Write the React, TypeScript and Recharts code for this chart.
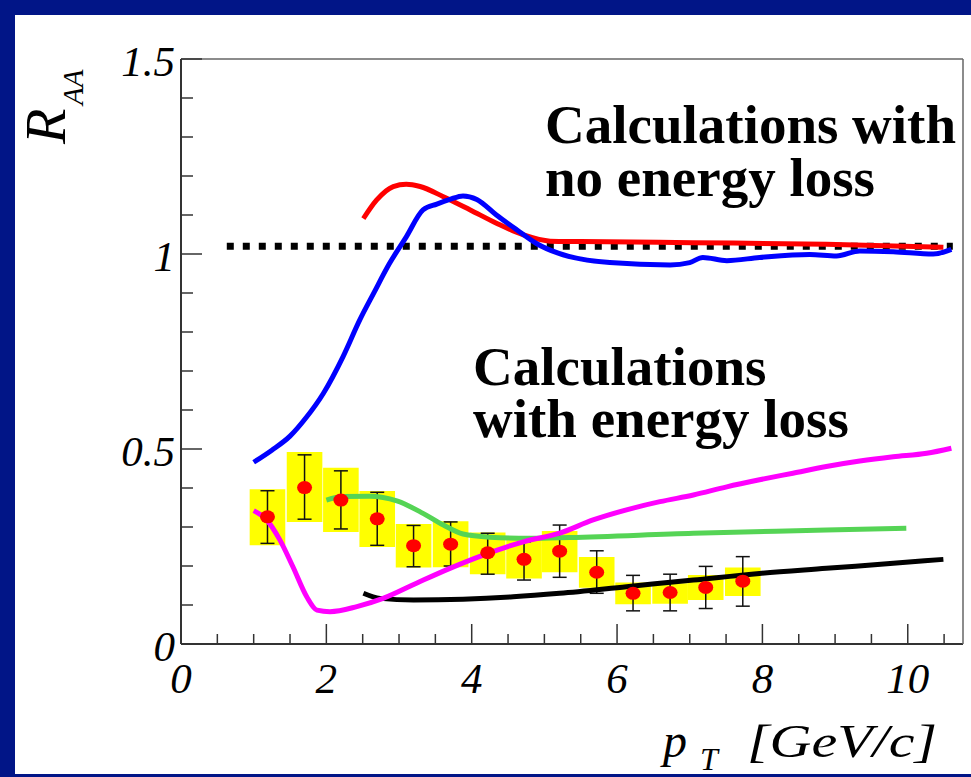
import React from 'react';
import {
  ComposedChart,
  Line,
  Scatter,
  XAxis,
  YAxis,
  ReferenceArea,
  ErrorBar,
  Customized,
} from 'recharts';

// ---------- axis ticks ----------
const xTicks = [0, 0.5, 1, 1.5, 2, 2.5, 3, 3.5, 4, 4.5, 5, 5.5, 6, 6.5, 7, 7.5, 8, 8.5, 9, 9.5, 10, 10.5];
const xTickLabels = ['0', '2', '4', '6', '8', '10'];
const yTicks = [0, 0.1, 0.2, 0.3, 0.4, 0.5, 0.6, 0.7, 0.8, 0.9, 1, 1.1, 1.2, 1.3, 1.4, 1.5];
const yTickLabels = ['0', '0.5', '1', '1.5'];

// ---------- theory curves ----------
const blueX = [1.0, 1.25, 1.5, 1.72, 1.96, 2.23, 2.46, 2.65, 2.87, 3.1, 3.33, 3.52, 3.7, 3.88, 4.07, 4.34, 4.62, 4.89, 5.19, 5.9, 6.73, 7.0, 7.18, 7.51, 7.96, 8.65, 9.02, 9.34, 9.8, 10.35, 10.6];
const blueY = [0.466, 0.497, 0.533, 0.58, 0.643, 0.737, 0.831, 0.899, 0.976, 1.044, 1.113, 1.128, 1.14, 1.149, 1.14, 1.1, 1.062, 1.027, 1.002, 0.978, 0.972, 0.978, 0.991, 0.983, 0.991, 0.999, 0.995, 1.008, 1.006, 1.0, 1.012];

const redX = [2.51, 2.69, 2.92, 3.1, 3.29, 3.61, 3.98, 4.34, 4.71, 5.08, 5.5, 7.04, 8.88, 10.49];
const redY = [1.091, 1.138, 1.173, 1.179, 1.173, 1.147, 1.113, 1.079, 1.049, 1.033, 1.032, 1.029, 1.025, 1.017];

const greenX = [2.0, 2.23, 2.6, 2.97, 3.33, 3.61, 3.88, 4.25, 4.8, 5.35, 7.05, 8.88, 9.98];
const greenY = [0.369, 0.378, 0.379, 0.367, 0.335, 0.305, 0.282, 0.274, 0.271, 0.273, 0.284, 0.292, 0.297];

const magentaX = [1.0, 1.18, 1.36, 1.54, 1.73, 1.87, 2.05, 2.42, 2.78, 3.24, 3.7, 4.16, 4.71, 5.21, 5.67, 6.13, 6.59, 7.05, 7.51, 7.96, 8.42, 8.88, 9.34, 9.8, 10.26, 10.6];
const magentaY = [0.342, 0.318, 0.267, 0.198, 0.121, 0.087, 0.083, 0.096, 0.117, 0.156, 0.194, 0.228, 0.262, 0.284, 0.318, 0.344, 0.365, 0.382, 0.403, 0.421, 0.438, 0.455, 0.469, 0.48, 0.489, 0.502];

const blackX = [2.51, 2.74, 3.2, 3.88, 4.57, 5.21, 6.13, 7.05, 7.96, 8.88, 9.8, 10.49];
const blackY = [0.13, 0.117, 0.113, 0.115, 0.121, 0.13, 0.147, 0.164, 0.181, 0.194, 0.207, 0.217];

const dottedX = [0.63, 10.62];
const dottedY = [1.02, 1.02];

// ---------- measured points ----------
const dataX = [1.19, 1.7, 2.2, 2.7, 3.2, 3.71, 4.22, 4.72, 5.21, 5.72, 6.22, 6.73, 7.22, 7.73];
const dataY = [0.326, 0.401, 0.369, 0.321, 0.252, 0.256, 0.234, 0.217, 0.238, 0.184, 0.13, 0.132, 0.145, 0.161];
const statLo = [0.258, 0.32, 0.295, 0.253, 0.198, 0.2, 0.179, 0.164, 0.171, 0.13, 0.085, 0.085, 0.091, 0.097];
const statHi = [0.393, 0.485, 0.444, 0.389, 0.304, 0.313, 0.284, 0.262, 0.305, 0.239, 0.176, 0.179, 0.199, 0.224];
const sysLo = [0.253, 0.313, 0.287, 0.249, 0.196, 0.197, 0.179, 0.168, 0.184, 0.144, 0.102, 0.103, 0.113, 0.123];
const sysHi = [0.397, 0.492, 0.452, 0.392, 0.308, 0.315, 0.286, 0.267, 0.29, 0.223, 0.158, 0.156, 0.177, 0.196];

const BOX_HALF = 0.245;

const toXY = (xs: number[], ys: number[]) => xs.map((x, i) => ({ x, y: ys[i] }));

const blueData = toXY(blueX, blueY);
const redData = toXY(redX, redY);
const greenData = toXY(greenX, greenY);
const magentaData = toXY(magentaX, magentaY);
const blackData = toXY(blackX, blackY);
const dottedData = toXY(dottedX, dottedY);
const pointData = dataX.map((x, i) => ({
  x,
  y: dataY[i],
  err: [dataY[i] - statLo[i], statHi[i] - dataY[i]],
}));

const SERIF = '"Liberation Serif", "Times New Roman", serif';
const AXIS_COLOR = '#333';

const fmt = (v: number) => String(Math.round(v * 10) / 10);

const XTick = (props: any) => {
  const { x, y, payload } = props;
  const v = payload.value as number;
  const major = Math.abs(v / 2 - Math.round(v / 2)) < 1e-6;
  const label = fmt(v);
  return (
    <g>
      <line x1={x} x2={x} y1={y} y2={y - (major ? 20 : 10)} stroke={AXIS_COLOR} strokeWidth={1.5} />
      {major && xTickLabels.includes(label) ? (
        <text x={x} y={y + 49} textAnchor="middle" fontFamily={SERIF} fontStyle="italic" fontSize={43} fill="#000">
          {label}
        </text>
      ) : null}
    </g>
  );
};

const YTick = (props: any) => {
  const { x, y, payload } = props;
  const v = payload.value as number;
  const major = Math.abs(v * 2 - Math.round(v * 2)) < 1e-6;
  const label = fmt(v);
  return (
    <g>
      <line x1={x} x2={x + (major ? 21 : 12)} y1={y} y2={y} stroke={AXIS_COLOR} strokeWidth={1.5} />
      {major && yTickLabels.includes(label) ? (
        <text x={x - 6} y={y + 17} textAnchor="end" fontFamily={SERIF} fontStyle="italic" fontSize={43} fill="#000">
          {label}
        </text>
      ) : null}
    </g>
  );
};

const RedDot = (props: any) => {
  const { cx, cy } = props;
  if (cx == null || cy == null) return null;
  return <ellipse cx={cx} cy={cy} rx={7.5} ry={6.5} fill="#ff0000" />;
};

const Texts = () => (
  <g>
    <text fontFamily={SERIF} fontWeight="bold" fontSize={55} fill="#000">
      <tspan x={545} y={143}>Calculations with</tspan>
      <tspan x={545} y={196}>no energy loss</tspan>
    </text>
    <text fontFamily={SERIF} fontWeight="bold" fontSize={55} fill="#000">
      <tspan x={473} y={385}>Calculations</tspan>
      <tspan x={473} y={437}>with energy loss</tspan>
    </text>
    {/* y title */}
    <text transform="translate(65,144) rotate(-90)" fontFamily={SERIF} fontStyle="italic" fontSize={58} fill="#000">
      R
    </text>
    <text transform="translate(83,105) rotate(-90)" fontFamily={SERIF} fontStyle="italic" fontSize={29} fill="#000">
      AA
    </text>
    {/* x title */}
    <text x={663} y={757} fontFamily={SERIF} fontStyle="italic" fontSize={48} fill="#000">
      p
    </text>
    <text x={700} y={770} fontFamily={SERIF} fontStyle="italic" fontSize={32} fill="#000">
      T
    </text>
    <text
      x={747}
      y={757}
      fontFamily={SERIF}
      fontStyle="italic"
      fontSize={46}
      fill="#000"
      textLength={190}
      lengthAdjust="spacingAndGlyphs"
    >
      [GeV/c]
    </text>
  </g>
);

export default function App() {
  return (
    <div style={{ position: 'absolute', left: 0, top: 0, width: 971, height: 777, background: '#011587' }}>
      <div style={{ position: 'absolute', left: 15, top: 15, width: 956, height: 759, background: '#ffffff' }} />
      <div style={{ position: 'absolute', left: 0, top: 0 }}>
        <ComposedChart width={971} height={777} margin={{ top: 58, right: 7, bottom: 132, left: 180 }}>
          <XAxis
            xAxisId={0}
            type="number"
            dataKey="x"
            domain={[0, 10.76]}
            ticks={xTicks}
            interval={0}
            height={1}
            tickSize={0}
            tickMargin={0}
            tickLine={false}
            tick={XTick}
            axisLine={{ stroke: AXIS_COLOR, strokeWidth: 2 }}
            allowDataOverflow
          />
          <XAxis
            xAxisId="top"
            orientation="top"
            type="number"
            domain={[0, 10.76]}
            height={1}
            tick={false}
            tickLine={false}
            axisLine={{ stroke: '#666', strokeWidth: 1.5 }}
          />
          <YAxis
            yAxisId={0}
            type="number"
            domain={[0, 1.5]}
            ticks={yTicks}
            interval={0}
            width={1}
            tickSize={0}
            tickMargin={0}
            tickLine={false}
            tick={YTick}
            axisLine={{ stroke: AXIS_COLOR, strokeWidth: 2 }}
            allowDataOverflow
          />
          <YAxis
            yAxisId="right"
            orientation="right"
            type="number"
            domain={[0, 1.5]}
            width={1}
            tick={false}
            tickLine={false}
            axisLine={{ stroke: '#666', strokeWidth: 1.5 }}
          />
          {dataX.map((x, i) => (
            <ReferenceArea
              key={`box-${i}`}
              x1={x - BOX_HALF}
              x2={x + BOX_HALF}
              y1={sysLo[i]}
              y2={sysHi[i]}
              fill="#ffff00"
              fillOpacity={1}
              stroke="none"
            />
          ))}
          <Scatter data={pointData} dataKey="y" shape={<RedDot />} isAnimationActive={false}>
            <ErrorBar dataKey="err" direction="y" width={7} stroke="#111" strokeWidth={1.5} isAnimationActive={false} />
          </Scatter>
          <Line data={dottedData} dataKey="y" type="linear" stroke="#000" strokeWidth={7} strokeDasharray="7 9" dot={false} activeDot={false} isAnimationActive={false} />
          <Line data={redData} dataKey="y" type="monotone" stroke="#ff0000" strokeWidth={5} dot={false} activeDot={false} isAnimationActive={false} />
          <Line data={blueData} dataKey="y" type="monotone" stroke="#0000ff" strokeWidth={5} dot={false} activeDot={false} isAnimationActive={false} />
          <Line data={blackData} dataKey="y" type="monotone" stroke="#000000" strokeWidth={5} dot={false} activeDot={false} isAnimationActive={false} />
          <Line data={greenData} dataKey="y" type="monotone" stroke="#55d455" strokeWidth={5} dot={false} activeDot={false} isAnimationActive={false} />
          <Line data={magentaData} dataKey="y" type="monotone" stroke="#ff00ff" strokeWidth={5} dot={false} activeDot={false} isAnimationActive={false} />
          <Customized component={Texts} />
        </ComposedChart>
      </div>
    </div>
  );
}
